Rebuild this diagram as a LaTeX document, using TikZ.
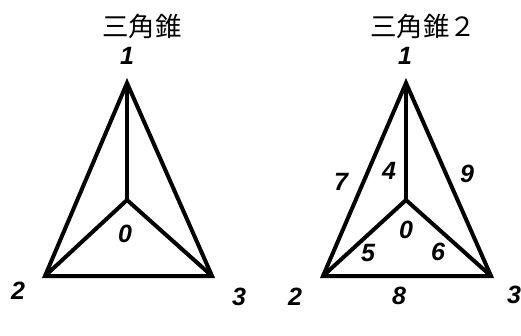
\documentclass[tikz,border=0pt]{standalone}
\usepackage{fontspec}
\setmainfont{Liberation Sans}
\newfontfamily\cjkfont{Noto Sans CJK JP}

\begin{document}
\begin{tikzpicture}[
    x=1pt,
    y=-1pt,
    edge/.style={line width=4pt, black},
    title/.style={font=\cjkfont\fontsize{26.5}{26.5}\selectfont, inner sep=0pt},
    num/.style={font=\bfseries\itshape\fontsize{25}{25}\selectfont, inner sep=0pt}
]

\useasboundingbox (0,0) rectangle (521,336);

\node[title] (t1) at (142,26) {三角錐};
\node[title] (t2) at (423,26) {三角錐２};

% left
\coordinate (a0) at (127,200);
\coordinate (a1) at (127,83);
\coordinate (a2) at (45,276);
\coordinate (a3) at (212,276);

\draw[edge] (a1) -- (a2) -- (a3) -- cycle;
\draw[edge] (a1) -- (a0);
\draw[edge] (a2) -- (a0) -- (a3);

\node[num] (n0) at (125,234) {0};
\node[num] (n1) at (127,56) {1};
\node[num] (n2) at (18,291) {2};
\node[num] (n3) at (239,297) {3};

% right
\coordinate (b0) at (406,200);
\coordinate (b1) at (406,83);
\coordinate (b2) at (323,276);
\coordinate (b3) at (491,276);

\draw[edge] (b1) -- (b2) -- (b3) -- cycle;
\draw[edge] (b1) -- (b0);
\draw[edge] (b2) -- (b0) -- (b3);

\node[num] (m0) at (406,230) {0};
\node[num] (m1) at (405,56) {1};
\node[num] (m2) at (295,297) {2};
\node[num] (m3) at (514,295) {3};
\node[num] (m4) at (389,171) {4};
\node[num] (m5) at (368,253) {5};
\node[num] (m6) at (438,252) {6};
\node[num] (m7) at (341,182) {7};
\node[num] (m8) at (399,296) {8};
\node[num] (m9) at (467,174) {9};

\end{tikzpicture}
\end{document}
